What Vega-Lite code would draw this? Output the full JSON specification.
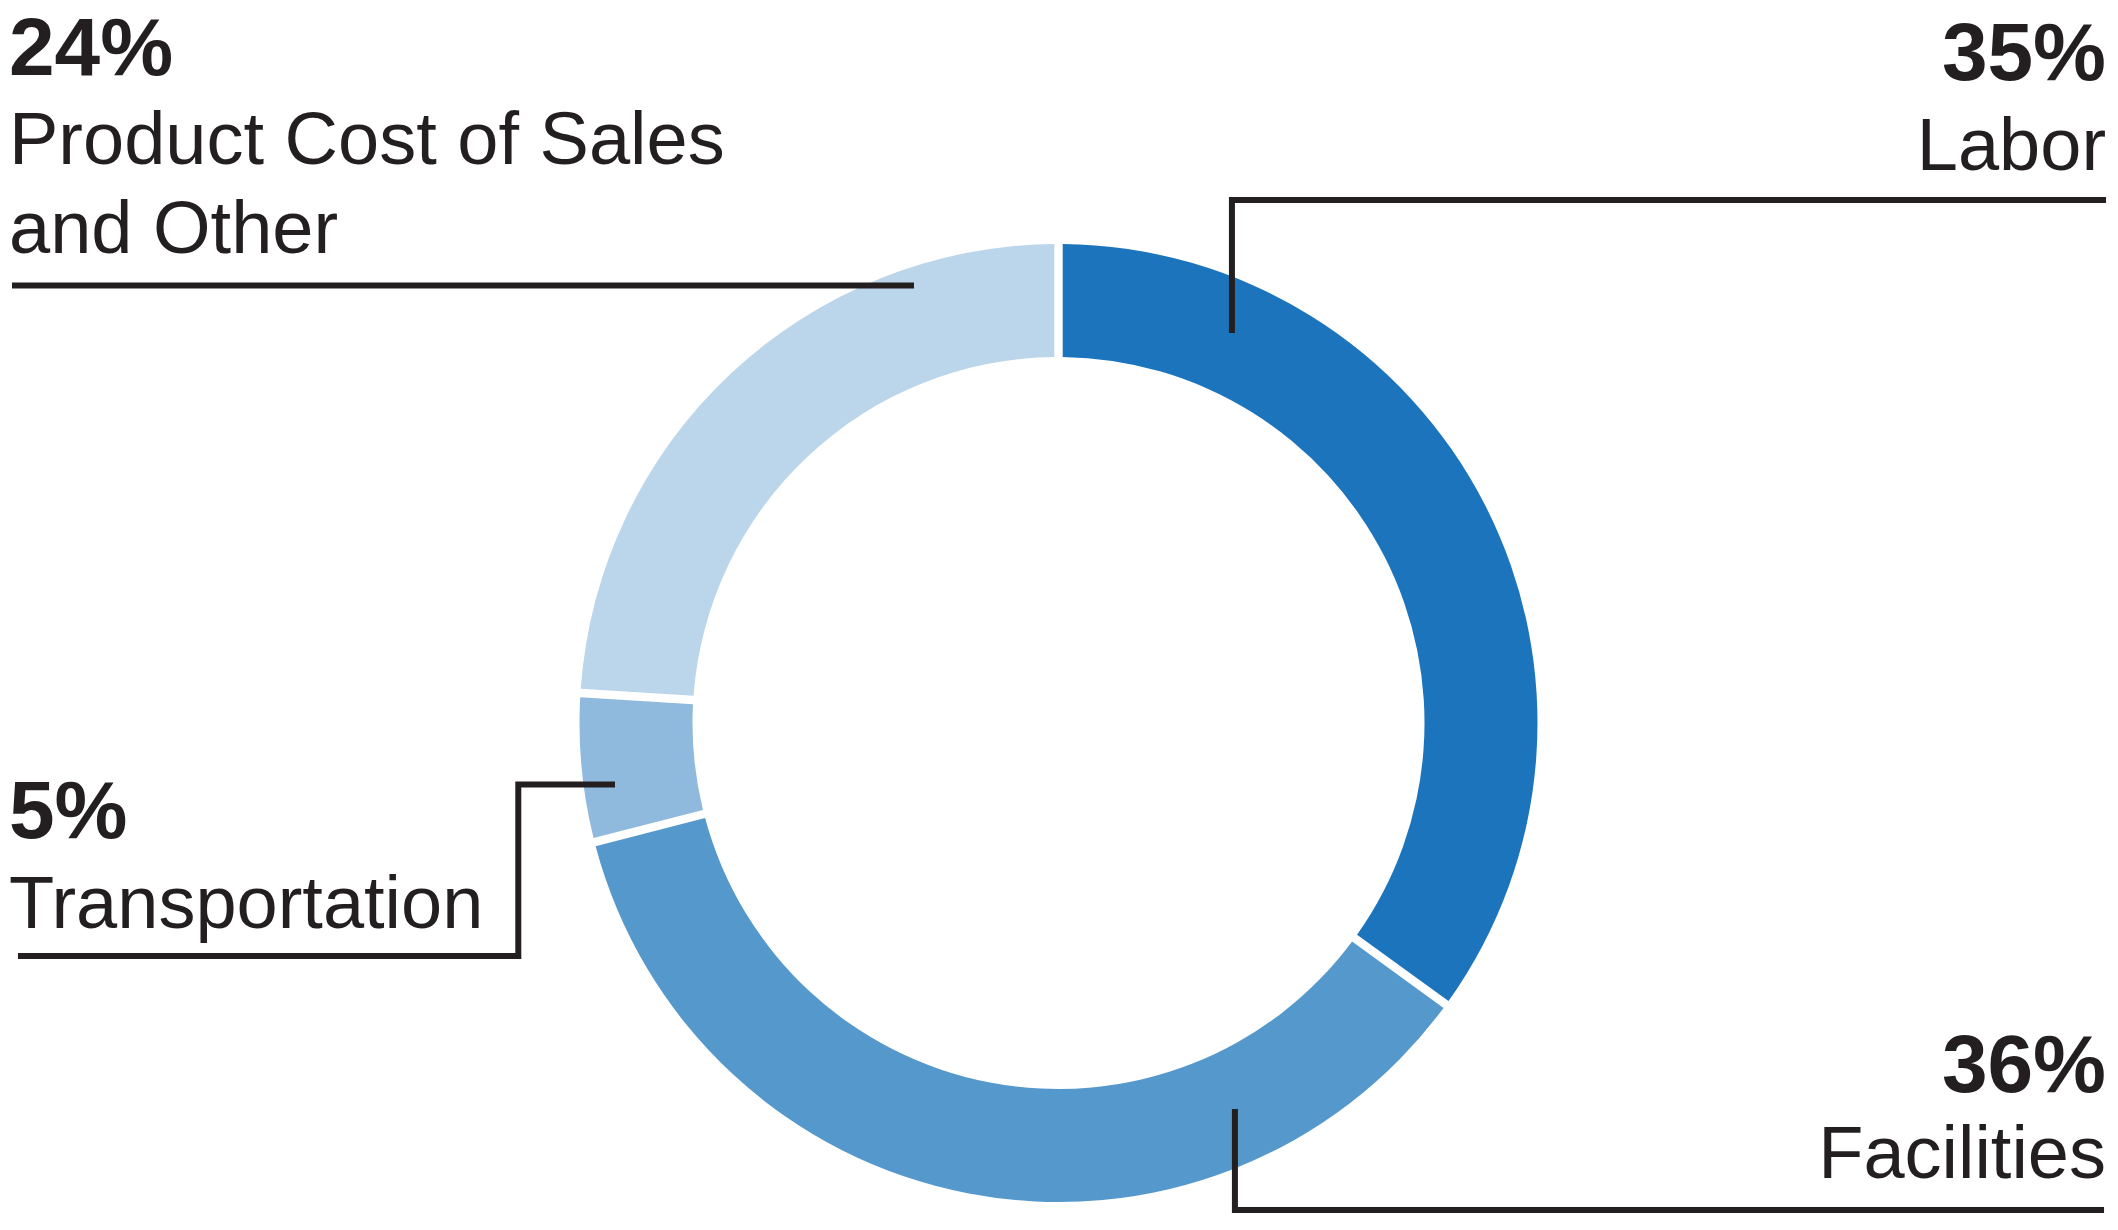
{
  "$schema": "https://vega.github.io/schema/vega-lite/v6.json",
  "width": 2118,
  "height": 1230,
  "padding": 0,
  "autosize": {"type": "fit", "contains": "padding"},
  "background": "white",
  "datasets": {
    "shares": [
      {"category": "Labor", "share": 0.35, "rank": 1},
      {"category": "Facilities", "share": 0.36, "rank": 2},
      {"category": "Transportation", "share": 0.05, "rank": 3},
      {"category": "Product Cost of Sales and Other", "share": 0.24, "rank": 4}
    ],
    "callouts": [
      {"category": "Labor", "side": "right", "x": 1051, "pct_y": 643, "name_y": 553, "name": "Labor"},
      {"category": "Facilities", "side": "right", "x": 1051, "pct_y": -369, "name_y": -455, "name": "Facilities"},
      {"category": "Transportation", "side": "left", "x": -1053, "pct_y": -115, "name_y": -205, "name": "Transportation"},
      {"category": "Product Cost of Sales and Other", "side": "left", "x": -1053, "pct_y": 648, "name_y": 559, "name": "Product Cost of Sales\nand Other"}
    ],
    "leaders": [
      {"category": "Labor", "seq": 1, "x": 174, "y": 390},
      {"category": "Labor", "seq": 2, "x": 174, "y": 523},
      {"category": "Labor", "seq": 3, "x": 1051, "y": 523},
      {"category": "Facilities", "seq": 1, "x": 177, "y": -386},
      {"category": "Facilities", "seq": 2, "x": 177, "y": -487},
      {"category": "Facilities", "seq": 3, "x": 1049, "y": -487},
      {"category": "Transportation", "seq": 1, "x": -445, "y": -61.5},
      {"category": "Transportation", "seq": 2, "x": -542, "y": -61.5},
      {"category": "Transportation", "seq": 3, "x": -542, "y": -233},
      {"category": "Transportation", "seq": 4, "x": -1044, "y": -233},
      {"category": "Product Cost of Sales and Other", "seq": 1, "x": -1050, "y": 437.5},
      {"category": "Product Cost of Sales and Other", "seq": 2, "x": -145, "y": 437.5}
    ]
  },
  "layer": [
    {
      "data": {"name": "shares"},
      "mark": {"type": "arc", "outerRadius": 479, "innerRadius": 366, "padAngle": 0.014},
      "encoding": {
        "x": {"datum": 0, "type": "quantitative", "scale": {"domain": [-1058, 1060], "nice": false, "zero": false}, "axis": null},
        "y": {"datum": 0, "type": "quantitative", "scale": {"domain": [-507, 723], "nice": false, "zero": false}, "axis": null},
        "theta": {"field": "share", "type": "quantitative", "stack": true},
        "order": {"field": "rank", "type": "quantitative"},
        "color": {
          "field": "category",
          "type": "nominal",
          "legend": null,
          "scale": {
            "domain": ["Labor", "Facilities", "Transportation", "Product Cost of Sales and Other"],
            "range": ["#1c75bc", "#5598cc", "#8fb9dd", "#bbd5eb"]
          }
        }
      }
    },
    {
      "data": {"name": "leaders"},
      "mark": {"type": "line", "color": "#231f20", "strokeWidth": 6, "strokeCap": "butt", "strokeJoin": "miter"},
      "encoding": {
        "x": {"field": "x", "type": "quantitative", "axis": null},
        "y": {"field": "y", "type": "quantitative", "axis": null},
        "detail": {"field": "category"},
        "order": {"field": "seq", "type": "quantitative"}
      }
    },
    {
      "data": {"name": "callouts"},
      "transform": [
        {"lookup": "category", "from": {"data": {"name": "shares"}, "key": "category", "fields": ["share"]}},
        {"filter": "datum.side === 'left'"}
      ],
      "mark": {"type": "text", "align": "left", "baseline": "alphabetic", "font": "Liberation Sans", "fontWeight": "bold", "fontSize": 82, "color": "#231f20"},
      "encoding": {
        "x": {"field": "x", "type": "quantitative", "axis": null},
        "y": {"field": "pct_y", "type": "quantitative", "axis": null},
        "text": {"field": "share", "type": "quantitative", "format": ".0%"}
      }
    },
    {
      "data": {"name": "callouts"},
      "transform": [
        {"lookup": "category", "from": {"data": {"name": "shares"}, "key": "category", "fields": ["share"]}},
        {"filter": "datum.side === 'right'"}
      ],
      "mark": {"type": "text", "align": "right", "baseline": "alphabetic", "font": "Liberation Sans", "fontWeight": "bold", "fontSize": 82, "color": "#231f20"},
      "encoding": {
        "x": {"field": "x", "type": "quantitative", "axis": null},
        "y": {"field": "pct_y", "type": "quantitative", "axis": null},
        "text": {"field": "share", "type": "quantitative", "format": ".0%"}
      }
    },
    {
      "data": {"name": "callouts"},
      "transform": [{"filter": "datum.side === 'left'"}],
      "mark": {"type": "text", "align": "left", "baseline": "alphabetic", "font": "Liberation Sans", "fontSize": 74, "lineBreak": "\n", "lineHeight": 89, "color": "#231f20"},
      "encoding": {
        "x": {"field": "x", "type": "quantitative", "axis": null},
        "y": {"field": "name_y", "type": "quantitative", "axis": null},
        "text": {"field": "name", "type": "nominal"}
      }
    },
    {
      "data": {"name": "callouts"},
      "transform": [{"filter": "datum.side === 'right'"}],
      "mark": {"type": "text", "align": "right", "baseline": "alphabetic", "font": "Liberation Sans", "fontSize": 74, "color": "#231f20"},
      "encoding": {
        "x": {"field": "x", "type": "quantitative", "axis": null},
        "y": {"field": "name_y", "type": "quantitative", "axis": null},
        "text": {"field": "name", "type": "nominal"}
      }
    }
  ],
  "config": {
    "view": {"stroke": null}
  }
}
